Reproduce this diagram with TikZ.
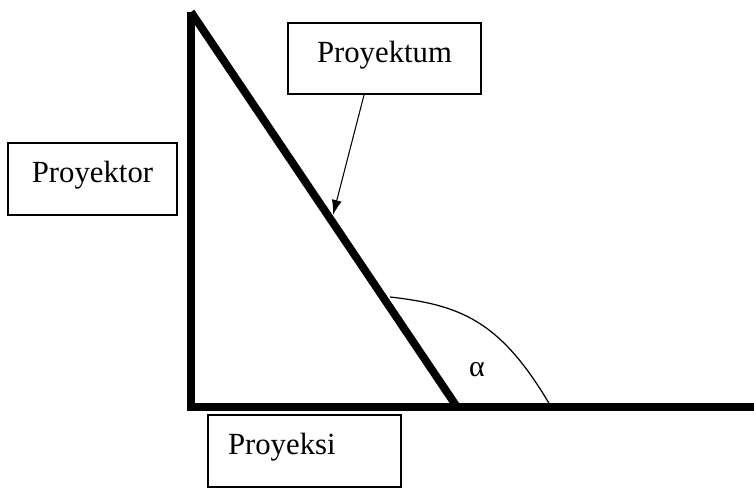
\documentclass[tikz,border=0pt]{standalone}
\usepackage{fontspec}
\setmainfont{Liberation Serif}
\usetikzlibrary{arrows.meta,positioning,calc}

\begin{document}
\begin{tikzpicture}[>={Latex[length=0.3cm,width=0.2cm]}, kotak/.style={draw, line width=0.9pt, minimum height=1.43cm, text depth=0.27cm, font=\fontsize{17.5}{20}\selectfont}, garis/.style={line width=4.5pt}]
        \useasboundingbox (0,0) rectangle (15.08,9.76);
        % titik-titik segitiga
        \coordinate (puncak) at (3.82,9.52);
        \coordinate (siku) at (3.82,1.62);
        \coordinate (kaki) at (9.14,1.62);
        \coordinate (ujungkanan) at (15.08,1.62);

        \draw[garis] (puncak) -- (siku);
        \draw[garis] ($(siku)+(-0.08,0)$) -- (ujungkanan);
        \draw[garis] (puncak) -- (kaki);

        \node [kotak, minimum width=3.86cm, align=center] (proyektum) at (7.69,8.59) {Proyektum};
        \node [kotak, minimum width=3.38cm, align=center] (proyektor) at (1.85,6.18) {Proyektor};
        \node [kotak, minimum width=3.86cm, text width=3.06cm, inner xsep=0.4cm, align=left] (proyeksi) at (6.09,0.74) {Proyeksi};

        \coordinate (ujung) at (6.66,5.46);
        \draw[->, line width=0.6pt] ([xshift=-0.41cm]proyektum.south) -- (ujung);

        % busur sudut alpha
        \coordinate (sudutA) at (7.8,3.82);
        \coordinate (sudutB) at (11.0,1.66);
        \draw[line width=0.7pt] (sudutA) .. controls (9.2,3.66) and (10.0,3.36) .. (sudutB);
        \node [font=\fontsize{17}{20}\selectfont] (alpha) at (9.54,2.36) {α};
    \end{tikzpicture}
\end{document}
